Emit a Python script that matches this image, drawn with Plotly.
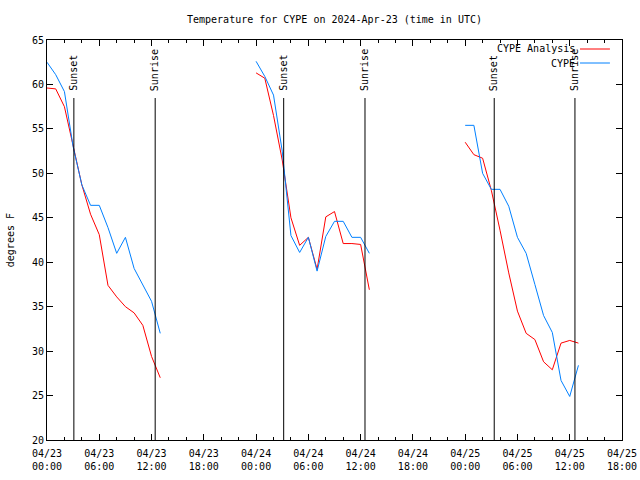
import plotly.graph_objects as go
import pandas as pd

# ---- data ----
title_text = "Temperature for CYPE on 2024-Apr-23 (time in UTC)"
day_starts = ["2024-04-23 00:00", "2024-04-24 00:00", "2024-04-25 00:00"]
hour_offsets = [0, 1, 2, 3, 4, 5, 6, 7, 8, 9, 10, 11, 12, 13]

analysis_day1 = [59.6, 59.5, 57.5, 53.2, 48.7, 45.4, 43.1, 37.4, 36.1, 35.0, 34.3, 32.9, 29.4, 27.0]
analysis_day2 = [61.3, 60.7, 56.5, 51.5, 45.0, 41.9, 42.8, 39.2, 45.1, 45.7, 42.1, 42.1, 42.0, 36.9]
analysis_day3 = [53.5, 52.1, 51.7, 48.1, 43.6, 38.8, 34.5, 32.0, 31.3, 28.8, 27.9, 30.9, 31.2, 30.9]

obs_day1 = [62.5, 61.1, 59.2, 53.0, 48.7, 46.4, 46.4, 43.9, 41.0, 42.8, 39.3, 37.4, 35.6, 32.0]
obs_day2 = [62.6, 60.9, 58.8, 52.5, 43.0, 41.1, 42.8, 39.0, 42.9, 44.6, 44.6, 42.8, 42.8, 41.0]
obs_day3 = [55.4, 55.4, 50.0, 48.2, 48.2, 46.3, 42.8, 41.0, 37.5, 34.0, 32.1, 26.7, 24.9, 28.4]

sunset_times = ["2024-04-23 03:05", "2024-04-24 03:10", "2024-04-25 03:20"]
sunrise_times = ["2024-04-23 12:25", "2024-04-24 12:30", "2024-04-25 12:36"]

tick_times = ["2024-04-23 00:00", "2024-04-23 06:00", "2024-04-23 12:00", "2024-04-23 18:00",
              "2024-04-24 00:00", "2024-04-24 06:00", "2024-04-24 12:00", "2024-04-24 18:00",
              "2024-04-25 00:00", "2024-04-25 06:00", "2024-04-25 12:00", "2024-04-25 18:00"]
tick_labels = ["04/23<br>00:00", "04/23<br>06:00", "04/23<br>12:00", "04/23<br>18:00",
               "04/24<br>00:00", "04/24<br>06:00", "04/24<br>12:00", "04/24<br>18:00",
               "04/25<br>00:00", "04/25<br>06:00", "04/25<br>12:00", "04/25<br>18:00"]

series_names = ["CYPE Analysis", "CYPE"]
series_colors = ["#ff0000", "#0080ff"]

# ---- build ----
def join_days(day_lists):
    xs, ys = [], []
    for start, vals in zip(day_starts, day_lists):
        t0 = pd.Timestamp(start)
        for h, v in zip(hour_offsets, vals):
            xs.append(t0 + pd.Timedelta(hours=h))
            ys.append(v)
        xs.append(None)
        ys.append(None)
    return xs, ys

FONT = "DejaVu Sans Mono"
fig = go.Figure()
for name, color, days in [(series_names[0], series_colors[0], [analysis_day1, analysis_day2, analysis_day3]),
                          (series_names[1], series_colors[1], [obs_day1, obs_day2, obs_day3])]:
    xs, ys = join_days(days)
    fig.add_trace(go.Scatter(x=xs, y=ys, mode="lines", name=name,
                             line=dict(color=color, width=1), showlegend=False,
                             connectgaps=False))

shapes = []
annotations = []
for lab, times in [("Sunset", sunset_times), ("Sunrise", sunrise_times)]:
    for t in times:
        shapes.append(dict(type="line", xref="x", yref="paper", x0=t, x1=t, y0=0, y1=0.855,
                           line=dict(color="black", width=1)))
        annotations.append(dict(text=lab, x=t, xref="x", y=0.8675, yref="paper",
                                xanchor="center", yanchor="bottom", textangle=-90,
                                showarrow=False, font=dict(family=FONT, size=10, color="black")))

# legend (gnuplot style: text right, sample after)
leg_y = [0.9775, 0.9425]
for name, color, yy in zip(series_names, series_colors, leg_y):
    annotations.append(dict(text=name, x=0.9217, y=yy, xref="paper", yref="paper",
                            xanchor="right", yanchor="middle", showarrow=False,
                            font=dict(family=FONT, size=10, color="black")))
    shapes.append(dict(type="line", xref="paper", yref="paper", x0=0.927, x1=0.979,
                       y0=yy, y1=yy, line=dict(color=color, width=1)))

annotations.append(dict(text="degrees F", x=-0.064, y=0.5, xref="paper", yref="paper",
                        textangle=-90, showarrow=False, xanchor="center", yanchor="middle",
                        font=dict(family=FONT, size=10, color="black")))

fig.update_layout(
    width=640, height=480,
    margin=dict(l=47, r=18, t=40, b=40, autoexpand=False),
    paper_bgcolor="white", plot_bgcolor="white",
    font=dict(family=FONT, size=10, color="black"),
    title=dict(text=title_text, x=0.5, xref="paper", y=1 - 19 / 480, yref="container",
               xanchor="center", yanchor="middle", font=dict(family=FONT, size=10, color="black")),
    shapes=shapes, annotations=annotations,
)
fig.update_xaxes(type="date", range=[tick_times[0], tick_times[-1]],
                 tickmode="array", tickvals=tick_times, ticktext=tick_labels,
                 ticks="inside", ticklen=6, tickcolor="black", ticklabelstandoff=4,
                 showline=True, linecolor="black", linewidth=1, mirror="allticks",
                 showgrid=False, zeroline=False, automargin=False,
                 minor=dict(tickmode="linear", tick0=tick_times[0], dtick=2 * 3600 * 1000,
                            ticks="inside", ticklen=3, tickcolor="black", showgrid=False),
                 tickfont=dict(family=FONT, size=10, color="black"))
fig.update_yaxes(range=[20, 65], tickmode="linear", tick0=20, dtick=5,
                 ticks="inside", ticklen=6, tickcolor="black",
                 showline=True, linecolor="black", linewidth=1, mirror="allticks",
                 showgrid=False, zeroline=False, automargin=False,
                 tickfont=dict(family=FONT, size=10, color="black"))

fig.write_html("out.html", config={"displayModeBar": False},
               post_script="document.body.style.margin='0';")
